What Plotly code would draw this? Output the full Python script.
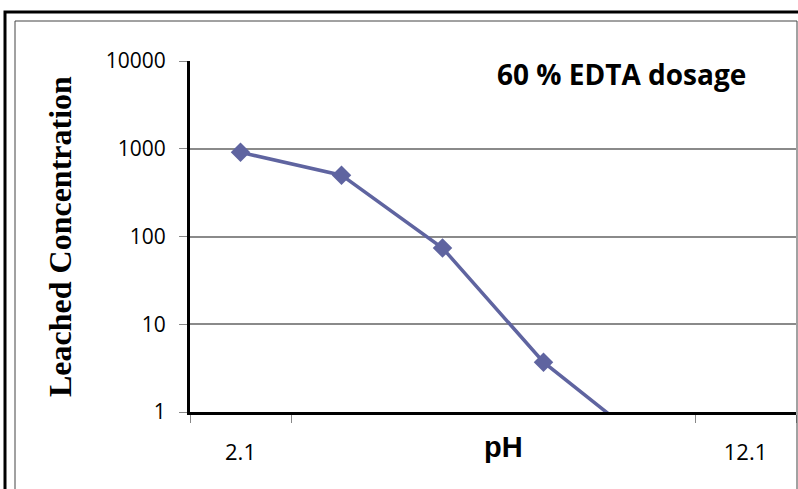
import plotly.graph_objects as go

ph_labels = ["2.1", "4.1", "6.1", "8.1", "10.1", "12.1"]
leached = [910, 500, 74, 3.7, 0.45, None]
y_ticks = [1, 10, 100, 1000, 10000]
shown_x_labels = ["2.1", "12.1"]

W, H = 798, 489
L, R, T, B = 190, 2, 61, 77
pw, ph = W - L - R, H - T - B

def px(x):
    return (x - L) / pw

def py(y):
    return (H - B - y) / ph

xs = list(range(len(ph_labels)))
line_color = "#5F64A0"

fig = go.Figure()
fig.add_trace(go.Scatter(
    x=xs, y=leached, mode="lines+markers",
    line=dict(color=line_color, width=3.5),
    marker=dict(symbol="diamond", size=15, color=line_color),
    showlegend=False,
))

shown_idx = [ph_labels.index(s) for s in shown_x_labels]
fig.update_layout(
    width=W, height=H,
    margin=dict(l=L, r=R, t=T, b=B),
    paper_bgcolor="white", plot_bgcolor="white",
    xaxis=dict(
        range=[-0.5, len(ph_labels) - 0.5],
        tickmode="array", tickvals=shown_idx, ticktext=shown_x_labels,
        ticks="", showgrid=False, zeroline=False,
        showline=True, linecolor="black", linewidth=3,
        tickfont=dict(family="Open Sans", size=22, color="black"),
        ticklabelstandoff=19,
        minor=dict(tickmode="array", tickvals=[-0.5, 0.5, 4.5, 5.5],
                   ticks="outside", ticklen=8, tickcolor="#888888", tickwidth=1,
                   showgrid=False),
    ),
    yaxis=dict(
        type="log", range=[0, 4],
        tickmode="array", tickvals=y_ticks, ticktext=[str(v) for v in y_ticks],
        ticks="outside", ticklen=8, tickcolor="#888888", tickwidth=1,
        showgrid=True, gridcolor="#8a8a8a", gridwidth=1.5,
        showline=True, linecolor="black", linewidth=3, zeroline=False,
        tickfont=dict(family="Open Sans", size=21, color="black"),
        ticklabelstandoff=9,
    ),
    annotations=[
        dict(text="Leached Concentration", xref="paper", yref="paper",
             x=px(60), y=py(237), showarrow=False, textangle=-90,
             xanchor="center", yanchor="middle",
             font=dict(family="Liberation Serif", size=32, color="black", weight="bold")),
        dict(text="pH", xref="paper", yref="paper", x=px(503), y=py(447),
             showarrow=False, xanchor="center", yanchor="middle",
             font=dict(family="Liberation Sans", size=29, color="black", weight="bold")),
        dict(text="60 % EDTA dosage", xref="paper", yref="paper", x=px(495), y=py(74),
             showarrow=False, xanchor="left", yanchor="middle",
             font=dict(family="Open Sans", size=28, color="black", weight="bold")),
    ],
    shapes=[
        dict(type="rect", xref="paper", yref="paper",
             x0=px(5), x1=px(805), y0=py(12), y1=py(520),
             line=dict(color="black", width=3), layer="above"),
        dict(type="rect", xref="paper", yref="paper",
             x0=px(15), x1=px(797), y0=py(21), y1=py(520),
             line=dict(color="#444444", width=1), layer="above"),
    ],
)
fig.write_html("out.html", config={"displayModeBar": False},
               post_script="document.body.style.margin='0';document.body.style.overflow='hidden';")
